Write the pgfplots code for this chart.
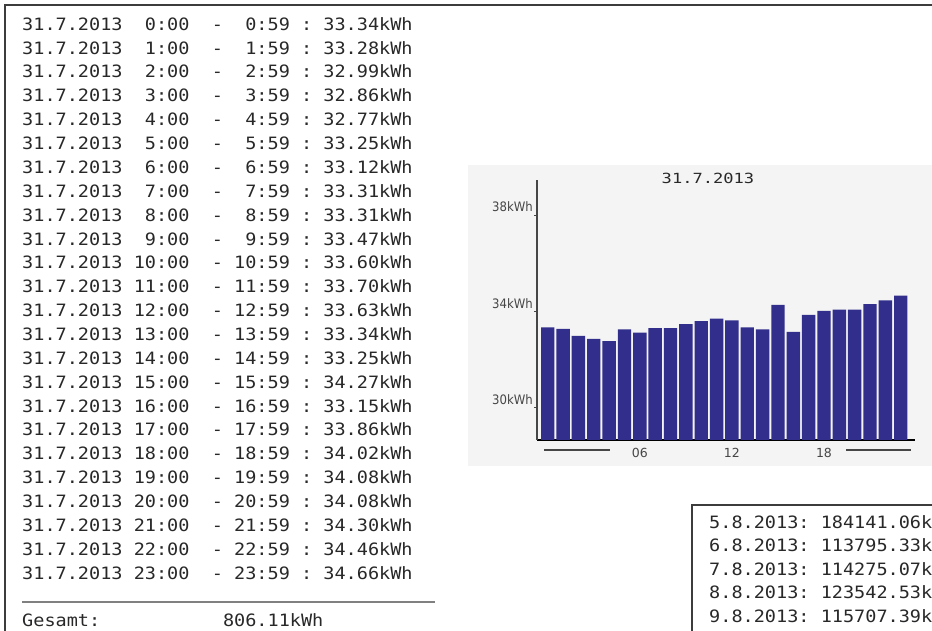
\documentclass[border=0pt]{standalone}
\usepackage{pgfplots}
\pgfplotsset{compat=1.18}
\usepackage{fontspec}
\setmainfont{DejaVu Sans}
\newfontfamily\mono[FakeStretch=1.09]{DejaVu Sans Mono}
\newfontfamily\titlemono[FakeStretch=1.22]{DejaVu Sans Mono}
\newfontfamily\condensed{DejaVu Sans Condensed}
\definecolor{barblue}{RGB}{50,46,140}
\definecolor{txt}{RGB}{40,40,40}
\definecolor{panel}{RGB}{244,244,244}
\definecolor{axisgray}{RGB}{70,70,70}
\definecolor{labelgray}{RGB}{70,70,70}
\definecolor{framegray}{RGB}{60,60,60}
\begin{document}
\begin{tikzpicture}
\useasboundingbox (0pt,0pt) rectangle (932pt,631pt);
% chart panel
\fill[panel] (468pt,165pt) rectangle (932pt,466pt);
\begin{axis}[at={(537pt,191pt)}, anchor=south west, scale only axis,
  width=378pt, height=260pt,
  xmin=-0.7, xmax=23.93, ymin=28.66, ymax=39.46,
  axis x line=bottom, axis y line=left, axis line style={-},
  x axis line style={black, line width=2pt},
  y axis line style={axisgray, line width=1.8pt},
  ytick={30,34,38}, yticklabels={30kWh,34kWh,38kWh},
  xtick={6,12,18}, xticklabels={06,12,18},
  major tick length=3pt, tick align=outside,
  ytick style={axisgray, line width=1pt},
  xtick style={draw=none},
  yticklabel style={anchor=south east, inner sep=0pt, xshift=-1pt, yshift=3pt,
    font=\condensed\fontsize{13}{13}\selectfont, text=labelgray},
  xticklabel style={inner sep=0pt, yshift=-5pt,
    font=\fontsize{12.5}{13}\selectfont, text=labelgray},
  clip=true]
\addplot[ybar, bar width=13.4pt, fill=barblue, draw=none] coordinates {
(0,33.34) (1,33.28) (2,32.99) (3,32.86) (4,32.77) (5,33.25)
(6,33.12) (7,33.31) (8,33.31) (9,33.47) (10,33.60) (11,33.70)
(12,33.63) (13,33.34) (14,33.25) (15,34.27) (16,33.15) (17,33.86)
(18,34.02) (19,34.08) (20,34.08) (21,34.30) (22,34.46) (23,34.66)};
\end{axis}
\begin{scope}[x=1pt,y=1pt]
\node[font=\titlemono\fontsize{14}{14}\selectfont, text=txt] at (708,453) {31.7.2013};
\draw[labelgray, line width=1.5pt] (544,181) -- (610,181);
\draw[labelgray, line width=1.5pt] (846,181) -- (911,181);
% main frame
\draw[framegray, line width=2pt] (5,0) -- (5,626) -- (932,626);
% left text list
\begin{scope}[every node/.style={anchor=base west, inner sep=0pt, text=txt,
  font=\mono\fontsize{17}{17}\selectfont}]
\node at (22,600.80) {31.7.2013~~0:00~~-~~0:59~:~33.34kWh};
\node at (22,576.93) {31.7.2013~~1:00~~-~~1:59~:~33.28kWh};
\node at (22,553.06) {31.7.2013~~2:00~~-~~2:59~:~32.99kWh};
\node at (22,529.19) {31.7.2013~~3:00~~-~~3:59~:~32.86kWh};
\node at (22,505.32) {31.7.2013~~4:00~~-~~4:59~:~32.77kWh};
\node at (22,481.45) {31.7.2013~~5:00~~-~~5:59~:~33.25kWh};
\node at (22,457.58) {31.7.2013~~6:00~~-~~6:59~:~33.12kWh};
\node at (22,433.71) {31.7.2013~~7:00~~-~~7:59~:~33.31kWh};
\node at (22,409.84) {31.7.2013~~8:00~~-~~8:59~:~33.31kWh};
\node at (22,385.97) {31.7.2013~~9:00~~-~~9:59~:~33.47kWh};
\node at (22,362.10) {31.7.2013~10:00~~-~10:59~:~33.60kWh};
\node at (22,338.23) {31.7.2013~11:00~~-~11:59~:~33.70kWh};
\node at (22,314.36) {31.7.2013~12:00~~-~12:59~:~33.63kWh};
\node at (22,290.49) {31.7.2013~13:00~~-~13:59~:~33.34kWh};
\node at (22,266.62) {31.7.2013~14:00~~-~14:59~:~33.25kWh};
\node at (22,242.75) {31.7.2013~15:00~~-~15:59~:~34.27kWh};
\node at (22,218.88) {31.7.2013~16:00~~-~16:59~:~33.15kWh};
\node at (22,195.01) {31.7.2013~17:00~~-~17:59~:~33.86kWh};
\node at (22,171.14) {31.7.2013~18:00~~-~18:59~:~34.02kWh};
\node at (22,147.27) {31.7.2013~19:00~~-~19:59~:~34.08kWh};
\node at (22,123.40) {31.7.2013~20:00~~-~20:59~:~34.08kWh};
\node at (22,99.53) {31.7.2013~21:00~~-~21:59~:~34.30kWh};
\node at (22,75.66) {31.7.2013~22:00~~-~22:59~:~34.46kWh};
\node at (22,51.79) {31.7.2013~23:00~~-~23:59~:~34.66kWh};
\node at (22,4.05) {Gesamt:~~~~~~~~~~~806.11kWh};
\end{scope}
\draw[gray, line width=1.5pt] (22,29) -- (435,29);
% bottom right box
\draw[framegray, line width=2pt] (692,0) -- (692,126) -- (932,126);
\begin{scope}[every node/.style={anchor=base west, inner sep=0pt, text=txt,
  font=\mono\fontsize{17}{17}\selectfont}]
\node at (709,102.8) {5.8.2013:~184141.06k};
\node at (709,79.3) {6.8.2013:~113795.33k};
\node at (709,55.8) {7.8.2013:~114275.07k};
\node at (709,32.3) {8.8.2013:~123542.53k};
\node at (709,8.8) {9.8.2013:~115707.39k};
\end{scope}
\end{scope}
\end{tikzpicture}
\end{document}
